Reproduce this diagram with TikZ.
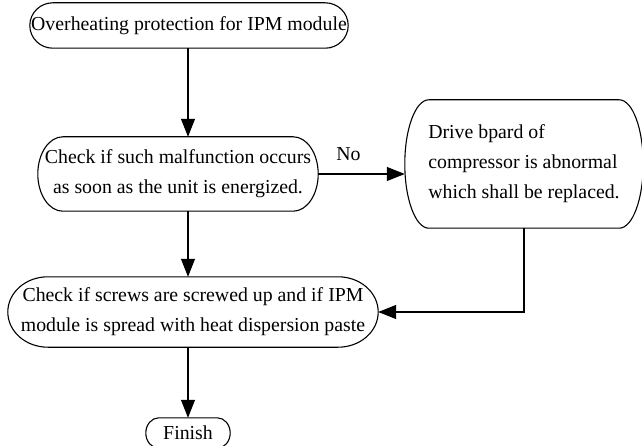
\documentclass[tikz,border=0pt]{standalone}
\usepackage{fontspec}
\setmainfont{Liberation Serif}
\usetikzlibrary{arrows.meta,calc}
\begin{document}
\begin{tikzpicture}[x=1pt,y=-1pt,
  txt/.style={inner sep=0pt, align=center, font=\fontsize{19.8}{30}\selectfont},
  outline/.style={line width=1.1pt},
  conn/.style={line width=1.1pt, -{Triangle[length=18pt,width=14pt]}}]
\useasboundingbox (0,0) rectangle (642,446);
\node[txt, minimum width=318pt, minimum height=45pt] (top) at (189,25.5) {Overheating protection for IPM module};
\node[txt, minimum width=280pt, minimum height=74pt] (chk) at (178,174) {Check if such malfunction occurs\\as soon as the unit is energized.};
\node[txt, align=left, minimum width=238pt, minimum height=128pt] (drv) at (524,164) {Drive bpard of\\compressor is abnormal\\which shall be replaced.};
\node[txt, minimum width=370pt, minimum height=70pt] (scr) at (193,312) {Check if screws are screwed up and if IPM\\module is spread with heat dispersion paste};
\node[txt, minimum width=84pt, minimum height=30pt] (fin) at (188,433) {Finish};
\foreach \nd/\rr in {top/23, chk/25, drv/24, scr/40, fin/13} {
  \draw[outline] let \p1=(\nd.north west), \p2=(\nd.south east), \n1={(\y1-\y2)/2} in
    (\x1+\rr pt,\y1) -- (\x2-\rr pt,\y1)
    arc[start angle=90, end angle=-90, x radius=\rr pt, y radius=\n1]
    -- (\x1+\rr pt,\y2)
    arc[start angle=270, end angle=90, x radius=\rr pt, y radius=\n1] -- cycle;
}
\draw[conn] (top.south -| fin.north) -- (chk.north -| fin.north);
\draw[conn] (chk.east) -- (chk.east -| drv.west) node[pos=0.35, above=13pt, txt] (no) {No};
\draw[conn] (chk.south -| fin.north) -- (scr.north -| fin.north);
\draw[conn] (drv.south) |- (scr.east);
\draw[conn] (scr.south -| fin.north) -- (fin.north);
\end{tikzpicture}
\end{document}
